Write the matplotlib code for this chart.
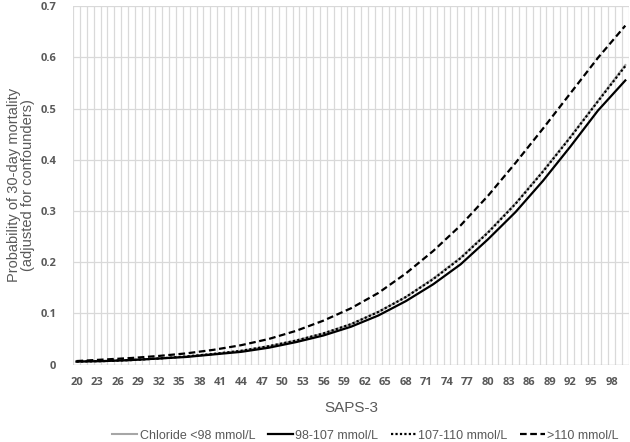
import matplotlib
matplotlib.use('Agg')
import matplotlib.pyplot as plt
import numpy as np

# SAPS-3 score vs adjusted probability of 30-day mortality, by chloride group
saps = [20, 24, 28, 32, 36, 40, 44, 48, 52, 56, 60, 64, 68, 72, 76, 80, 84, 88, 92, 96, 100]
p_lt98 = [0.006, 0.007, 0.009, 0.012, 0.016, 0.021, 0.027, 0.036, 0.047, 0.061, 0.079,
          0.103, 0.132, 0.168, 0.209, 0.259, 0.315, 0.378, 0.445, 0.515, 0.585]
p_98_107 = [0.006, 0.007, 0.009, 0.012, 0.015, 0.020, 0.025, 0.033, 0.044, 0.057, 0.074,
            0.096, 0.124, 0.157, 0.196, 0.245, 0.298, 0.359, 0.426, 0.496, 0.555]
p_107_110 = [0.006, 0.007, 0.009, 0.012, 0.016, 0.021, 0.027, 0.036, 0.047, 0.061, 0.079,
             0.103, 0.132, 0.167, 0.208, 0.258, 0.314, 0.377, 0.444, 0.514, 0.583]
p_gt110 = [0.007, 0.010, 0.013, 0.017, 0.022, 0.029, 0.038, 0.050, 0.066, 0.086, 0.110,
           0.140, 0.178, 0.222, 0.272, 0.330, 0.394, 0.461, 0.530, 0.599, 0.662]

xticks = list(range(20, 99, 3))
yticks = [0, 0.1, 0.2, 0.3, 0.4, 0.5, 0.6, 0.7]
ytick_labels = ['0', '0.1', '0.2', '0.3', '0.4', '0.5', '0.6', '0.7']

GRID = '#d9d9d9'
TXT = '#595959'

plt.rcParams['font.family'] = ['Liberation Sans', 'DejaVu Sans']

fig = plt.figure(figsize=(6.3, 4.42), dpi=100)
ax = fig.add_axes([0.116, 0.175, 0.882, 0.811])

ax.plot(saps, p_lt98, color='#a6a6a6', lw=1.5, label='Chloride <98 mmol/L', zorder=3)
ax.plot(saps, p_98_107, color='black', lw=1.6, label='98-107 mmol/L', zorder=4)
ax.plot(saps, p_107_110, color='black', lw=1.6, ls=(0, (1, 1)), label='107-110 mmol/L', zorder=4)
ax.plot(saps, p_gt110, color='black', lw=1.6, ls=(0, (3, 1.6)), label='>110 mmol/L', zorder=4)

ax.set_xlim(19.5, 100.5)
ax.set_ylim(0, 0.7)

# category-style vertical gridlines between each SAPS value
for gx in np.arange(19.5, 101, 1.0):
    ax.axvline(gx, color=GRID, lw=0.9, zorder=1)
for gy in yticks[1:]:
    ax.axhline(gy, color=GRID, lw=0.9, zorder=1)
ax.axhline(0, color='#bfbfbf', lw=1.0, zorder=2)

for s in ax.spines.values():
    s.set_visible(False)

ax.set_xticks(xticks)
ax.set_xticklabels([str(t) for t in xticks], fontsize=8, fontweight='bold',
                   color=TXT, family=['Open Sans', 'DejaVu Sans'])
ax.set_yticks(yticks)
ax.set_yticklabels(ytick_labels, fontsize=8, fontweight='bold',
                   color=TXT, family=['Open Sans', 'DejaVu Sans'])
ax.tick_params(axis='x', length=0, pad=9)
ax.tick_params(axis='y', length=0, pad=12)

ax.set_xlabel('SAPS-3', fontsize=11, color=TXT, labelpad=9)
ax.set_ylabel('Probability of 30-day mortality\n(adjusted for confounders)',
              fontsize=10.5, color=TXT, linespacing=1.05)
ax.yaxis.set_label_coords(-0.068, 0.5)

leg = fig.legend(loc='lower center', bbox_to_anchor=(0.58, -0.025), ncol=4,
                 frameon=False, fontsize=9, handlelength=2.0, handletextpad=0.2,
                 columnspacing=1.0)
for t in leg.get_texts():
    t.set_color(TXT)

fig.savefig('out.png', dpi=100)
